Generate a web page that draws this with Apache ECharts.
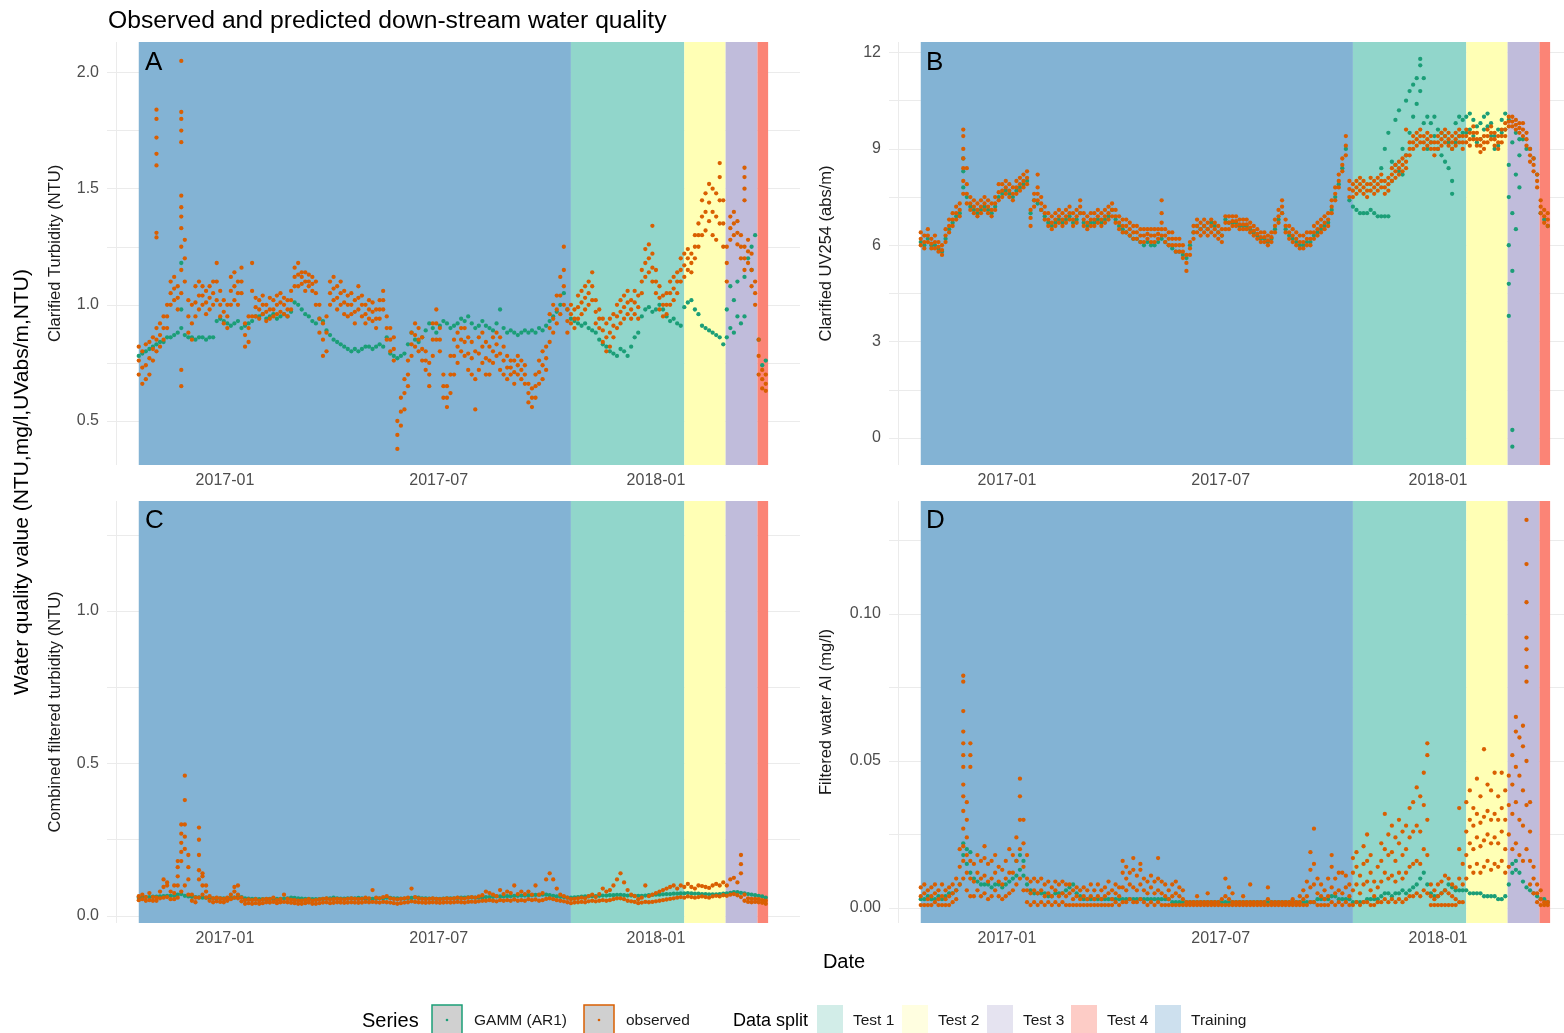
<!DOCTYPE html>
<html><head><meta charset="utf-8">
<script src="https://cdn.jsdelivr.net/npm/echarts@6.0.0/dist/echarts.min.js"></script>
<style>html,body{margin:0;padding:0;background:#fff}#chart{width:1564px;height:1033px}</style>
</head><body><div id="chart"></div>
<script>
// ---------- time bins: observations sampled every 3 days from 2016-10-20 ----------
const binStartYear = 2016, binStartMonth = 9, binStartDay = 20, binStepDays = 3;

// ---------- data split bands ----------
const splitNames  = ['Training', 'Test 1', 'Test 2', 'Test 3', 'Test 4'];
const splitStarts = ['2016-10-20', '2017-10-21', '2018-01-25', '2018-03-01', '2018-03-28'];
const splitEnds   = ['2017-10-21', '2018-01-25', '2018-03-01', '2018-03-28', '2018-04-06'];

// ---------- axis ticks ----------
const xLabelDates = ['2017-01-01', '2017-07-01', '2018-01-01'];
const xGridDates  = ['2016-10-01', '2017-01-01', '2017-04-01', '2017-07-01', '2017-10-01', '2018-01-01', '2018-04-01'];
const yLabelsA = [0.5, 1.0, 1.5, 2.0];
const yGridA   = [0.5, 0.75, 1.0, 1.25, 1.5, 1.75, 2.0];
const yLabelsB = [0, 3, 6, 9, 12];
const yGridB   = [0, 1.5, 3, 4.5, 6, 7.5, 9, 10.5, 12];
const yLabelsC = [0.0, 0.5, 1.0];
const yGridC   = [0, 0.25, 0.5, 0.75, 1.0, 1.25];
const yLabelsD = [0.00, 0.05, 0.10];
const yGridD   = [0, 0.025, 0.05, 0.075, 0.1, 0.125];

// ---------- A: Clarified Turbidity (NTU) ----------
const gammA = [
0.78,0.79,0.80,0.81,0.82,0.83,0.84,0.84,0.86,0.86,
0.87,0.88,[0.90,1.18,0.98],0.87,0.86,0.86,0.85,0.86,0.86,0.85,
0.86,0.86,0.93,0.94,0.93,0.92,0.91,0.92,0.93,0.90,
0.91,0.92,0.93,0.95,0.95,0.96,0.94,0.95,0.96,0.94,
0.95,0.96,0.95,0.97,1.01,1.00,0.98,0.96,0.95,0.93,
0.92,0.94,0.93,0.89,0.87,0.85,0.84,0.83,0.82,0.81,
0.80,0.81,0.80,0.81,0.82,0.82,0.81,0.82,0.83,0.82,
0.86,0.79,0.78,0.77,0.78,0.79,0.83,0.88,0.85,0.84,
0.86,0.89,0.92,0.90,0.88,0.91,0.93,0.92,0.90,0.91,
0.92,0.94,0.93,0.95,0.92,0.90,0.91,0.93,0.91,0.90,
0.89,0.92,0.98,0.90,0.88,0.89,0.88,0.87,0.88,0.89,
0.88,0.89,0.88,0.90,0.89,0.91,0.93,0.95,0.97,1.00,
1.05,0.98,0.94,0.93,0.92,0.91,0.92,0.90,0.89,0.88,
0.85,0.83,0.82,0.80,0.79,0.78,0.81,0.80,0.78,0.82,
0.86,0.88,0.95,0.98,0.99,0.97,0.98,1.00,0.98,0.95,
0.93,0.94,0.92,0.91,0.99,1.01,1.02,0.98,0.96,0.91,
0.90,0.89,0.88,0.87,0.86,0.83,[0.98,0.86],[1.08,0.90],[1.02,0.88],[0.95,1.10],
0.92,[1.12,0.95],1.20,[1.25,1.15],1.30,0.85,0.74,0.76];
const obsA = [
[0.70,0.76,0.82],[0.66,0.73,0.80],[0.68,0.74,0.83],[0.70,0.77,0.84],[0.76,0.81,0.86],[0.80,0.85,0.90,1.84,1.80,1.72,1.65,1.60,1.31,1.29],[0.82,0.87,0.92],[0.85,0.90,0.95],[0.90,0.95,1.00],[1.00,1.05,1.10],
[1.02,1.07,1.12],[0.98,1.03,1.08],[1.05,1.15,1.25,2.05,1.83,1.80,1.75,1.70,1.47,1.42,1.38,1.33,0.72,0.65],[1.10,1.20,1.28],[0.88,0.95,1.02],[0.85,0.92,1.00],[0.95,1.01,1.08],[0.98,1.04,1.10],[1.00,1.04,1.08],[0.96,1.01,1.06],
[0.98,1.03,1.08],[1.00,1.05,1.10],[1.02,1.10,1.18],[0.95,1.00,1.06],[0.92,0.97,1.02],[0.90,0.95,1.00],[1.00,1.06,1.12],[1.02,1.08,1.14],[1.00,1.05,1.10],[1.05,1.10,1.16],
[0.82,0.87,0.92],[0.84,0.90,0.95],[0.95,1.06,1.18],[0.95,0.99,1.03],[0.94,0.98,1.02],[0.96,1.00,1.04],[0.93,0.97,1.00],[0.94,0.98,1.03],[0.95,0.98,1.02],[0.96,1.00,1.04],
[0.97,1.01,1.05],[0.96,1.00,1.03],[0.95,0.98,1.02],[0.98,1.02,1.06],[1.08,1.12,1.16],[1.08,1.13,1.18],[1.09,1.12,1.14],[1.06,1.10,1.14],[1.08,1.10,1.13],[1.06,1.09,1.12],
[1.00,1.05,1.10],[0.88,0.94,1.00],[0.78,0.85,0.92],[0.80,0.88,0.95],[1.00,1.05,1.10],[1.02,1.07,1.12],[0.98,1.03,1.08],[1.00,1.05,1.10],[0.96,1.01,1.06],[0.95,1.00,1.04],
[0.96,1.00,1.05],[0.92,0.97,1.02],[0.98,1.03,1.08],[0.95,1.00,1.04],[0.92,0.96,1.00],[0.94,0.98,1.02],[0.93,0.97,1.01],[0.90,0.94,0.98],[0.94,0.98,1.02],[0.98,1.02,1.06],
[0.85,0.90,0.95],[0.80,0.85,0.90],[0.76,0.81,0.86],[0.38,0.44,0.50],[0.48,0.54,0.60],[0.55,0.62,0.68],[0.65,0.70,0.76],[0.78,0.83,0.88],[0.82,0.87,0.92],[0.80,0.85,0.90],
[0.76,0.81,0.86],[0.72,0.76,0.80],[0.65,0.70,0.75],[0.78,0.85,0.92],[0.85,0.92,0.98],[0.80,0.85,0.90],[0.60,0.65,0.70],[0.56,0.60,0.65],[0.62,0.70,0.78],[0.70,0.78,0.85],
[0.75,0.82,0.88],[0.80,0.85,0.90],[0.78,0.84,0.90],[0.72,0.79,0.86],[0.70,0.77,0.84],[0.55,0.68,0.80],[0.72,0.79,0.86],[0.75,0.82,0.88],[0.70,0.77,0.84],[0.70,0.76,0.82],
[0.75,0.80,0.86],[0.78,0.83,0.88],[0.72,0.79,0.86],[0.70,0.76,0.82],[0.68,0.73,0.78],[0.70,0.73,0.76],[0.66,0.71,0.76],[0.70,0.74,0.78],[0.68,0.72,0.76],[0.66,0.70,0.74],
[0.58,0.62,0.66],[0.56,0.60,0.64],[0.60,0.65,0.70],[0.66,0.71,0.76],[0.68,0.74,0.80],[0.72,0.77,0.82],[0.84,0.90,0.96],[0.88,0.94,1.00],[0.92,0.98,1.04],[0.96,1.04,1.12],
[1.00,1.08,1.15,1.25],[0.88,0.93,0.98],[0.92,0.96,1.00],[0.90,0.94,0.98],[0.94,0.99,1.04],[0.96,1.01,1.06],[0.98,1.03,1.08],[1.00,1.05,1.10],[1.02,1.08,1.14],[0.92,0.97,1.02],
[0.90,0.94,0.98],[0.84,0.89,0.94],[0.80,0.86,0.92],[0.82,0.88,0.94],[0.86,0.91,0.96],[0.90,0.95,1.00],[0.92,0.97,1.02],[0.94,0.99,1.04],[0.96,1.01,1.06],[0.94,0.98,1.02],
[0.96,1.01,1.06],[0.94,0.99,1.04],[1.05,1.10,1.15],[1.12,1.18,1.24],[1.14,1.20,1.26],[1.10,1.16,1.22,1.34],[1.05,1.10,1.15],[0.98,1.03,1.08],[0.95,1.00,1.04],[0.96,1.00,1.05],
[1.00,1.05,1.10],[1.02,1.07,1.12],[1.05,1.10,1.14],[1.10,1.15,1.20],[1.12,1.17,1.22],[1.15,1.20,1.24],[1.14,1.18,1.22],[1.20,1.25,1.30],[1.25,1.30,1.35],[1.30,1.38,1.45],
[1.32,1.40,1.48],[1.36,1.44,1.52],[1.30,1.40,1.50],[1.28,1.38,1.48],[1.35,1.45,1.55,1.61],[1.25,1.35,1.45],[1.10,1.18,1.25],[1.28,1.33,1.38],[1.30,1.35,1.40],[1.26,1.31,1.36],
[1.20,1.25,1.30],[1.15,1.20,1.25,1.59,1.55,1.50,1.45],[1.18,1.23,1.28],[1.08,1.15,1.22],[1.00,1.05,1.10],[0.70,0.78,0.85],[0.64,0.68,0.72],[0.63,0.66,0.70]];

// ---------- B: Clarified UV254 (abs/m) ----------
const gammB = [
6.1,6.0,6.2,6.0,6.0,5.9,5.8,6.2,6.5,6.7,
6.9,7.0,[8.7,8.3,7.8],7.5,7.2,7.1,7.0,7.1,7.2,7.1,
7.0,7.2,7.5,7.6,7.7,7.6,7.5,7.7,7.8,7.9,
8.0,7.0,7.4,7.3,7.1,6.9,6.7,6.6,6.7,6.8,
6.7,6.8,6.9,6.7,6.8,7.0,6.7,6.6,6.7,6.7,
6.8,6.7,6.8,6.9,7.1,6.8,6.6,6.5,6.4,6.3,
6.2,6.2,6.1,6.0,6.1,6.0,6.0,6.1,6.2,6.1,
6.0,5.9,5.8,5.8,5.7,5.6,6.0,6.4,6.6,6.5,
6.6,6.5,6.7,6.6,6.4,6.3,6.8,6.7,6.7,6.7,
6.6,6.6,6.6,6.5,6.4,6.3,6.2,6.2,6.1,6.2,
6.5,6.8,7.0,6.5,6.3,6.2,6.1,6.0,6.0,6.1,
6.1,6.3,6.4,6.5,6.6,6.7,7.1,7.5,7.9,8.4,
9.0,7.4,7.2,7.1,7.0,7.0,7.0,7.1,7.0,6.9,
[6.9,8.4],[6.9,9.0],[6.9,9.5],[8.0,8.6],[8.5,9.9],[8.3,10.2],[8.2,9.0],[8.8,10.5],[9.5,10.8],[10.0,11.0],
[10.4,11.2],[10.8,11.8,11.6],[9.8,11.2],[9.0,10.0],[9.2,9.8],[9.4,10.0],[9.0,9.6],[8.8,9.5],[8.6,9.4],[8.4,9.2],
[7.6,8.0,9.0],[9.2,9.8],[9.4,10.0],[9.5,9.9],[9.5,10.0],[9.6,10.1],[9.4,9.9],[9.2,9.7],[9.3,9.8],[9.6,10.0],
[9.7,10.1],[9.4,9.8],[9.0,9.4],[9.1,9.6],[9.5,9.9],[9.6,10.1],[9.9,8.5,7.5,6.0,4.8,3.8],[9.2,7.0,5.2,0.25,-0.27],[9.5,8.2,6.5],[9.3,8.8,7.8],
9.3,9.0,9.0,8.7,8.2,7.0,6.8,6.6];
const obsB = [
[6.0,6.2,6.4],[5.9,6.1,6.3],[6.1,6.3,6.5],[5.9,6.05,6.2],[5.9,6.1,6.3],[5.8,5.95,6.1],[5.7,5.85,6.0],[6.1,6.3,6.5],[6.4,6.6,6.8],[6.6,6.8,7.0],
[6.8,7.0,7.2],[6.9,7.1,7.3],[7.6,8.0,8.4,9.6,9.4,9.0,8.7],[7.3,7.6,7.9,8.4],[7.1,7.3,7.5],[7.0,7.2,7.4],[6.9,7.1,7.3],[7.0,7.2,7.4],[7.1,7.3,7.5],[7.0,7.2,7.4],
[6.9,7.1,7.3],[7.1,7.3,7.5],[7.4,7.65,7.9],[7.5,7.7,7.9],[7.6,7.8,8.0],[7.5,7.7,7.9],[7.4,7.6,7.8],[7.6,7.8,8.0],[7.7,7.9,8.1],[7.8,8.0,8.2],
[7.9,8.1,8.3],[6.6,6.85,7.1],[7.2,7.4,7.6],[7.4,7.6,7.8,8.2],[7.1,7.3,7.5],[6.8,7.0,7.2],[6.6,6.8,7.0],[6.5,6.7,6.9],[6.6,6.8,7.0],[6.7,6.9,7.1],
[6.6,6.8,7.0],[6.7,6.9,7.1],[6.8,7.0,7.2],[6.6,6.8,7.0],[6.7,6.9,7.1],[7.0,7.2,7.4],[6.6,6.8,7.0],[6.5,6.7,6.9],[6.6,6.8,7.0],[6.6,6.8,7.0],
[6.7,6.9,7.1],[6.6,6.8,7.0],[6.7,6.9,7.1],[6.8,7.0,7.2],[6.9,7.1,7.3],[6.7,6.9,7.1],[6.5,6.7,6.9],[6.4,6.6,6.8],[6.4,6.6,6.8],[6.3,6.5,6.7],
[6.2,6.4,6.6],[6.2,6.4,6.6],[6.1,6.3,6.5],[6.1,6.3,6.5],[6.2,6.35,6.5],[6.1,6.3,6.5],[6.1,6.3,6.5],[6.2,6.35,6.5],[6.3,6.5,6.7,7.4,7.0],[6.1,6.3,6.5],
[6.0,6.2,6.4],[6.0,6.2,6.4],[5.8,6.0,6.2],[5.8,6.0,6.2],[5.6,5.8,6.0],[5.2,5.45,5.7],[5.7,5.9,6.1],[6.2,6.4,6.6],[6.4,6.6,6.8],[6.3,6.5,6.7],
[6.4,6.6,6.8],[6.3,6.5,6.7],[6.4,6.6,6.8],[6.3,6.5,6.7],[6.2,6.4,6.6],[6.1,6.3,6.5],[6.5,6.7,6.9],[6.5,6.7,6.9],[6.6,6.75,6.9],[6.6,6.75,6.9],
[6.5,6.65,6.8],[6.5,6.65,6.8],[6.5,6.65,6.8],[6.4,6.55,6.7],[6.3,6.45,6.6],[6.2,6.35,6.5],[6.1,6.25,6.4],[6.1,6.25,6.4],[6.0,6.15,6.3],[6.1,6.25,6.4],
[6.4,6.6,6.8],[6.7,6.9,7.1],[7.0,7.2,7.4],[6.4,6.6,6.8],[6.2,6.4,6.6],[6.1,6.3,6.5],[6.0,6.2,6.4],[5.9,6.1,6.3],[5.9,6.1,6.3],[6.0,6.2,6.4],
[6.0,6.2,6.4],[6.2,6.4,6.6],[6.3,6.5,6.7],[6.4,6.6,6.8],[6.5,6.7,6.9],[6.6,6.8,7.0],[7.0,7.2,7.4],[7.4,7.6,7.8],[7.8,8.0,8.2],[8.3,8.5,8.7],
[8.8,9.1,9.4],[7.5,7.75,8.0],[7.5,7.7,7.9],[7.6,7.8,8.0],[7.7,7.9,8.1],[7.6,7.8,8.0],[7.5,7.7,7.9],[7.7,7.9,8.1],[7.6,7.8,8.0],[7.7,7.9,8.1],
[7.8,8.0,8.2],[7.6,7.8,8.0],[7.7,7.9,8.1],[8.0,8.2,8.4],[8.1,8.3,8.5],[8.2,8.4,8.6],[8.3,8.5,8.7],[8.4,8.6,8.8,9.6],[8.8,9.0,9.2],[9.0,9.2,9.4],
[9.1,9.3,9.5],[9.2,9.4,9.6],[9.0,9.2,9.4],[9.1,9.3,9.5],[9.0,9.2,9.4],[8.8,9.0,9.2],[9.0,9.2,9.4],[9.1,9.3,9.5],[9.2,9.4,9.6],[9.1,9.3,9.5],
[9.0,9.2,9.4],[9.1,9.3,9.5],[9.2,9.4,9.6],[9.0,9.2,9.4],[9.2,9.4,9.6],[9.1,9.3,9.5],[9.3,9.5,9.7],[9.1,9.3,9.5],[8.9,9.1,9.3],[9.0,9.2,9.4],
[9.2,9.4,9.6],[9.3,9.5,9.7],[9.1,9.3,9.5],[9.0,9.2,9.4],[9.2,9.4,9.6],[9.4,9.6,9.8],[9.7,9.85,10.0],[9.7,9.85,10.0],[9.6,9.75,9.9],[9.5,9.65,9.8],
[9.4,9.6,9.8],[9.1,9.3,9.5],[8.6,8.8,9.0],[8.3,8.5,8.7],[7.8,8.0,8.2],[7.0,7.2,7.4],[6.7,6.9,7.1],[6.6,6.8,7.0]];

// ---------- C: Combined filtered turbidity (NTU) ----------
const gammC = [
0.060,0.061,0.062,0.062,0.063,0.063,0.064,0.065,0.066,0.066,
0.066,0.070,0.072,0.066,0.064,0.063,0.062,0.061,0.060,0.060,
0.059,0.058,0.058,0.058,0.058,0.058,0.059,0.060,0.062,0.062,
0.058,0.057,0.056,0.056,0.055,0.055,0.055,0.056,0.056,0.056,
0.056,0.057,0.058,0.060,0.059,0.058,0.057,0.056,0.056,0.055,
0.055,0.055,0.056,0.057,0.058,0.060,0.058,0.057,0.057,0.058,
0.058,0.058,0.059,0.058,0.057,0.056,0.056,0.057,0.058,0.058,
0.060,0.059,0.058,0.058,0.057,0.057,0.058,0.059,0.060,0.060,
0.058,0.058,0.057,0.057,0.056,0.056,0.057,0.058,0.058,0.058,
0.059,0.060,0.060,0.061,0.061,0.060,0.060,0.061,0.062,0.062,
0.063,0.064,0.064,0.064,0.065,0.065,0.066,0.066,0.067,0.067,
0.068,0.068,0.069,0.069,0.070,0.070,0.068,0.066,0.064,0.063,
0.062,0.060,0.060,0.061,0.062,0.063,0.064,0.064,0.065,0.065,
0.066,0.067,0.067,0.068,0.068,0.069,0.069,0.068,0.067,0.067,
0.066,0.066,0.066,0.067,0.068,0.069,0.070,0.070,0.071,0.072,
0.072,0.073,0.073,0.074,0.074,0.075,0.074,0.073,0.073,0.072,
0.072,0.071,0.071,0.071,0.072,0.073,0.074,0.076,0.078,0.078,
0.076,0.074,0.072,0.070,0.068,0.066,0.064,0.060];
const obsC = [
[0.052,0.065],[0.055,0.070],[0.050,0.062],[0.052,0.075],[0.050,0.062],[0.050,0.060],[0.058,0.080],[0.060,0.095,0.12],[0.062,0.10,0.11],[0.055,0.08],
[0.055,0.075,0.10],[0.06,0.10,0.13,0.16,0.18],[0.08,0.18,0.21,0.24,0.27,0.30],[0.10,0.22,0.26,0.30,0.38,0.46],[0.07,0.12,0.16,0.20],[0.05,0.07],[0.045,0.06],[0.06,0.12,0.15,0.20,0.25,0.29],[0.07,0.10,0.13,0.14],[0.06,0.08,0.10],
[0.05,0.065],[0.045,0.058],[0.048,0.060],[0.046,0.058],[0.045,0.056],[0.05,0.06],[0.055,0.07],[0.06,0.08,0.095],[0.058,0.07,0.10],[0.048,0.06],
[0.040,0.052],[0.042,0.054],[0.040,0.052],[0.042,0.055],[0.040,0.050],[0.042,0.054],[0.045,0.056],[0.044,0.055],[0.046,0.060],[0.042,0.052],
[0.045,0.055],[0.046,0.070],[0.045,0.056],[0.043,0.053],[0.042,0.052],[0.040,0.050],[0.040,0.050],[0.042,0.052],[0.044,0.055],[0.040,0.050],
[0.040,0.052],[0.042,0.054],[0.044,0.056],[0.045,0.058],[0.042,0.054],[0.043,0.055],[0.045,0.056],[0.044,0.055],[0.043,0.054],[0.044,0.056],
[0.045,0.058],[0.044,0.056],[0.043,0.055],[0.044,0.056],[0.046,0.060],[0.045,0.058],[0.046,0.085],[0.045,0.060],[0.044,0.058],[0.046,0.062],
[0.045,0.065],[0.044,0.058],[0.042,0.056],[0.040,0.054],[0.042,0.056],[0.044,0.058],[0.045,0.060],[0.048,0.090],[0.046,0.062],[0.045,0.058],
[0.044,0.056],[0.043,0.055],[0.044,0.056],[0.045,0.058],[0.044,0.056],[0.043,0.055],[0.044,0.056],[0.045,0.058],[0.044,0.056],[0.045,0.058],
[0.046,0.060],[0.045,0.058],[0.044,0.057],[0.046,0.060],[0.047,0.062],[0.046,0.060],[0.048,0.064],[0.050,0.068],[0.050,0.080],[0.052,0.075],
[0.050,0.070],[0.048,0.065],[0.052,0.085],[0.050,0.072],[0.052,0.080],[0.050,0.075],[0.054,0.100],[0.050,0.072],[0.052,0.080],[0.050,0.072],
[0.055,0.080],[0.052,0.070],[0.054,0.100],[0.050,0.070],[0.052,0.075],[0.056,0.120],[0.058,0.140],[0.055,0.120],[0.052,0.090],[0.050,0.070],
[0.048,0.065],[0.045,0.060],[0.042,0.055],[0.044,0.056],[0.045,0.058],[0.046,0.060],[0.045,0.058],[0.048,0.065],[0.050,0.070],[0.048,0.062],
[0.050,0.072],[0.052,0.090],[0.050,0.080],[0.052,0.085],[0.055,0.100],[0.058,0.120],[0.058,0.140],[0.055,0.110],[0.050,0.085],[0.048,0.070],
[0.046,0.065],[0.042,0.055],[0.044,0.060],[0.046,0.100],[0.045,0.065],[0.046,0.070],[0.048,0.075],[0.050,0.080],[0.052,0.085],[0.054,0.090],
[0.056,0.095],[0.058,0.100],[0.060,0.090],[0.062,0.100],[0.060,0.095],[0.064,0.105],[0.062,0.095],[0.060,0.090],[0.062,0.100],[0.064,0.098],
[0.062,0.095],[0.060,0.092],[0.064,0.100],[0.066,0.105],[0.064,0.100],[0.068,0.110],[0.066,0.100],[0.070,0.120],[0.072,0.125],[0.068,0.110],
[0.062,0.140,0.17,0.20],[0.050,0.070],[0.046,0.058],[0.045,0.056],[0.046,0.056],[0.045,0.055],[0.043,0.052],[0.040,0.050]];

// ---------- D: Filtered water Al (mg/l) ----------
const gammD = [
0.003,0.003,0.004,0.003,0.003,0.004,0.003,0.004,0.005,0.005,
0.006,0.008,[0.018,0.022],[0.015,0.020],[0.012,0.019],0.010,0.009,0.008,0.008,0.008,
0.007,0.008,0.008,0.007,0.008,0.009,0.010,[0.011,0.016],[0.013,0.018],[0.011,0.016],
0.008,0.006,0.005,0.005,0.005,0.005,0.004,0.004,0.005,0.005,
0.005,0.006,0.007,0.008,0.005,0.004,0.003,0.003,0.003,0.003,
0.003,0.003,0.003,0.003,0.003,0.003,0.003,0.003,0.003,0.003,
0.003,0.003,0.003,0.003,0.003,0.003,0.003,0.003,0.003,0.003,
0.003,0.002,0.002,0.002,0.002,0.002,0.002,0.002,0.002,0.002,
0.002,0.002,0.002,0.002,0.002,0.002,0.002,0.002,0.002,0.002,
0.002,0.002,0.002,0.002,0.002,0.002,0.002,0.002,0.002,0.002,
0.002,0.002,0.002,0.002,0.002,0.002,0.002,0.002,0.002,0.002,
0.002,0.002,0.003,0.003,0.003,0.003,0.004,0.004,0.003,0.003,
0.003,0.003,0.002,0.002,0.002,0.002,0.003,0.003,0.003,0.003,
0.004,0.005,0.005,0.004,0.005,0.005,0.006,0.005,0.006,0.007,
0.008,0.010,0.012,0.008,0.005,0.004,0.004,0.005,0.006,0.008,
0.007,0.006,0.006,0.006,0.006,0.005,0.005,0.005,0.005,0.004,
0.004,0.004,0.004,0.003,0.003,0.004,0.008,[0.012,0.015],[0.013,0.016],0.012,
0.009,0.007,0.006,0.005,0.004,0.003,0.003,0.002];
const obsD = [
[0.001,0.004,0.007],[0.001,0.005,0.008],[0.001,0.003,0.006],[0.001,0.004,0.007],[0.002,0.005,0.008],[0.001,0.003,0.006],[0.001,0.004,0.008],[0.001,0.003,0.006],[0.001,0.004,0.007],[0.002,0.005,0.008],
[0.003,0.006,0.010],[0.008,0.014,0.020],[0.010,0.016,0.021,0.027,0.033,0.038,0.042,0.048,0.052,0.056,0.060,0.067,0.077,0.079],[0.006,0.012,0.018,0.024,0.030,0.036],[0.004,0.010,0.016,0.048,0.052,0.056],[0.004,0.009,0.015],[0.006,0.012,0.018],[0.004,0.010,0.016],[0.005,0.011,0.017,0.021],[0.003,0.009,0.015],
[0.004,0.010,0.016],[0.006,0.012,0.018],[0.004,0.009,0.014],[0.003,0.008,0.013],[0.004,0.010,0.016],[0.005,0.012,0.020],[0.006,0.012,0.018],[0.008,0.016,0.024],[0.010,0.020,0.030,0.038,0.044],[0.006,0.014,0.022,0.030],
[0.002,0.006,0.010,0.018],[0.001,0.005,0.009],[0.002,0.006,0.010],[0.001,0.005,0.009],[0.002,0.006,0.010],[0.001,0.004,0.008],[0.002,0.005,0.009],[0.001,0.004,0.007],[0.002,0.006,0.009],[0.001,0.004,0.008],
[0.002,0.005,0.009],[0.001,0.004,0.008],[0.001,0.005,0.008],[0.001,0.003,0.006],[0.001,0.004,0.007],[0.001,0.003,0.006],[0.001,0.004,0.007],[0.001,0.003,0.006],[0.001,0.004,0.008],[0.001,0.003,0.006],
[0.001,0.004,0.008],[0.001,0.003,0.006],[0.001,0.004,0.007],[0.001,0.005,0.009],[0.001,0.003,0.006],[0.002,0.005,0.008],[0.001,0.004,0.007],[0.002,0.007,0.012,0.016],[0.002,0.006,0.010,0.014],[0.003,0.008,0.012],
[0.002,0.007,0.013,0.017],[0.002,0.006,0.011],[0.003,0.008,0.013,0.015],[0.002,0.006,0.010],[0.001,0.005,0.009],[0.002,0.007,0.011],[0.001,0.005,0.009],[0.002,0.006,0.010,0.017],[0.001,0.005,0.009],[0.001,0.004,0.008],
[0.001,0.003,0.006],[0.001,0.004,0.008],[0.001,0.005,0.009],[0.001,0.004,0.007],[0.001,0.003,0.006],[0.001,0.002],[0.001,0.002],[0.001,0.002],[0.001,0.002,0.004],[0.001,0.002],
[0.001,0.002],[0.001,0.002,0.005],[0.001,0.002],[0.001,0.002],[0.001,0.002],[0.001,0.003],[0.001,0.004,0.010],[0.001,0.003,0.007],[0.001,0.002,0.005],[0.001,0.002],
[0.001,0.002],[0.001,0.002,0.004],[0.001,0.002],[0.001,0.002,0.008],[0.001,0.002],[0.001,0.002],[0.001,0.002],[0.001,0.002],[0.001,0.003,0.007],[0.001,0.002],
[0.001,0.002],[0.001,0.002],[0.001,0.002],[0.001,0.002],[0.001,0.002],[0.001,0.002,0.003],[0.001,0.002],[0.001,0.002,0.004],[0.001,0.003,0.006],[0.001,0.004,0.009],
[0.002,0.007,0.013,0.019],[0.002,0.008,0.015,0.027],[0.001,0.005,0.010],[0.001,0.004,0.008],[0.001,0.003,0.006],[0.001,0.004,0.010],[0.002,0.007,0.014,0.018],[0.001,0.005,0.010],[0.002,0.006,0.012],[0.001,0.005,0.012],
[0.002,0.007,0.011],[0.001,0.004,0.008],[0.001,0.006,0.012,0.017],[0.002,0.008,0.014,0.019],[0.001,0.005,0.011],[0.002,0.008,0.015,0.021],[0.002,0.009,0.016,0.025],[0.001,0.006,0.012,0.018],[0.001,0.004,0.009],[0.002,0.007,0.014],
[0.002,0.009,0.016,0.022],[0.003,0.012,0.020,0.032],[0.002,0.010,0.018,0.025],[0.003,0.011,0.019,0.028],[0.002,0.009,0.016,0.024],[0.003,0.012,0.022,0.030],[0.002,0.010,0.018,0.026],[0.003,0.012,0.020,0.028],[0.004,0.014,0.024,0.034],[0.004,0.015,0.026,0.036],
[0.005,0.016,0.028,0.041],[0.004,0.015,0.026,0.038],[0.006,0.020,0.035,0.046],[0.005,0.018,0.030,0.052,0.056],[0.001,0.004,0.008],[0.001,0.003,0.006],[0.001,0.004,0.008],[0.001,0.005,0.009],[0.001,0.006,0.011],[0.001,0.005,0.010],
[0.001,0.004,0.008],[0.001,0.003,0.007],[0.002,0.010,0.020,0.034],[0.002,0.008,0.015],[0.010,0.018,0.026,0.036],[0.014,0.022,0.030,0.040],[0.012,0.020,0.028,0.034],[0.015,0.024,0.032,0.044],[0.012,0.021,0.029,0.038],[0.014,0.023,0.031,0.054],
[0.016,0.025,0.033,0.042],[0.013,0.022,0.030,0.040],[0.015,0.024,0.032,0.046],[0.014,0.022,0.030,0.038],[0.016,0.026,0.034,0.046],[0.012,0.020,0.030,0.040],[0.014,0.025,0.035,0.045],[0.020,0.032,0.042,0.052],[0.022,0.036,0.048,0.060,0.065],[0.018,0.030,0.045,0.058],
[0.016,0.028,0.040,0.055,0.062],[0.020,0.035,0.050,0.077,0.082,0.088,0.092,0.104,0.117,0.132],[0.008,0.016,0.026,0.036],[0.005,0.010,0.014],[0.002,0.005,0.008],[0.001,0.003,0.006],[0.001,0.002],[0.001,0.002]];

// ================= styling / layout =================
const FONT = '"Liberation Sans", Arial, Helvetica, sans-serif';
const COL_GAMM = '#1b9e77', COL_OBS = '#d95f02';
const bandColors   = {'Training':'#83b3d4','Test 1':'#91d6cb','Test 2':'#ffffb5','Test 3':'#c0bcdb','Test 4':'#fb8476'};
const legendColors = {'Training':'#cde0ee','Test 1':'#d2ede8','Test 2':'#fffee0','Test 3':'#e5e3f0','Test 4':'#fdccc6'};
const GRIDLINE = '#ebebeb', TICKTXT = '#4d4d4d';
const PT = 4.3;

function ts(s){ const p = s.split('-').map(Number); return new Date(p[0], p[1]-1, p[2]).getTime(); }
function binTime(i){ return new Date(binStartYear, binStartMonth, binStartDay + binStepDays*i).getTime(); }
function toPoints(list){
  const out = [];
  list.forEach((v, i) => { const t = binTime(i); (Array.isArray(v) ? v : [v]).forEach(y => out.push([t, y])); });
  return out;
}
const DAY = 864e5, jan2017 = ts('2017-01-01');
const xMin = jan2017 - 99.9*DAY, xMax = jan2017 + 487.0*DAY;
const PW = 693;
const panels = [
  {letter:'A', left:107, top:42,  h:423, yMin:0.3106, yMax:2.1313, labels:yLabelsA, grid:yGridA, dec:1, name:'Clarified Turbidity (NTU)', gamm:gammA, obs:obsA},
  {letter:'B', left:889, top:42,  h:423, yMin:-0.840, yMax:12.327, labels:yLabelsB, grid:yGridB, dec:0, name:'Clarified UV254 (abs/m)', gamm:gammB, obs:obsB},
  {letter:'C', left:107, top:501, h:422, yMin:-0.023, yMax:1.3607, labels:yLabelsC, grid:yGridC, dec:1, name:'Combined filtered turbidity (NTU)', gamm:gammC, obs:obsC},
  {letter:'D', left:889, top:501, h:422, yMin:-0.0051, yMax:0.13844, labels:yLabelsD, grid:yGridD, dec:2, name:'Filtered water Al (mg/l)', gamm:gammD, obs:obsD}
];
const fmtMonth = v => { const d = new Date(v); return d.getFullYear() + '-' + String(d.getMonth()+1).padStart(2,'0'); };

const option = {
  animation: false,
  backgroundColor: '#ffffff',
  title: { text: 'Observed and predicted down-stream water quality', left: 103, top: 4,
           textStyle: { fontSize: 24.7, fontWeight: 'normal', color: '#000', fontFamily: FONT } },
  grid: panels.map(p => ({ left: p.left, top: p.top, width: PW, height: p.h, containLabel: false, outerBoundsMode: 'none' })),
  xAxis: panels.map((p, k) => ({
    type: 'value', gridIndex: k, min: xMin, max: xMax, scale: true,
    axisLine: { show: false },
    axisTick: { show: false, customValues: xGridDates.map(ts) },
    axisLabel: { customValues: xLabelDates.map(ts), formatter: fmtMonth, fontSize: 16, color: TICKTXT, fontFamily: FONT, margin: 8, hideOverlap: false },
    splitLine: { show: true, lineStyle: { color: GRIDLINE, width: 1 } }
  })),
  yAxis: panels.map((p, k) => ({
    type: 'value', gridIndex: k, min: p.yMin, max: p.yMax,
    axisLine: { show: false },
    axisTick: { show: false, customValues: p.grid },
    axisLabel: { customValues: p.labels, formatter: v => Number(v).toFixed(p.dec), fontSize: 16, color: TICKTXT, fontFamily: FONT, margin: 8 },
    splitLine: { show: true, lineStyle: { color: GRIDLINE, width: 1 } },
    name: p.name, nameLocation: 'middle', nameGap: k % 2 === 0 ? 43 : 54,
    nameTextStyle: { fontSize: 16.5, color: '#1a1a1a', fontFamily: FONT }
  })),
  series: []
};

panels.forEach((p, k) => {
  option.series.push({
    name: 'GAMM (AR1)', type: 'scatter', xAxisIndex: k, yAxisIndex: k, z: 3,
    symbol: 'circle', symbolSize: PT, itemStyle: { color: COL_GAMM, opacity: 1 },
    data: toPoints(p.gamm), silent: true,
    markArea: { silent: true, z: 1, label: { show: false },
      data: splitNames.map((n, j) => [{ xAxis: ts(splitStarts[j]), itemStyle: { color: bandColors[n], opacity: 1 } }, { xAxis: ts(splitEnds[j]) }]) }
  });
  option.series.push({
    name: 'observed', type: 'scatter', xAxisIndex: k, yAxisIndex: k, z: 4,
    symbol: 'circle', symbolSize: PT, itemStyle: { color: COL_OBS, opacity: 1 },
    data: toPoints(p.obs), silent: true
  });
});

// ---------- text & legend graphics ----------
const g = [];
const letterPos = { A: [145, 63], B: [926, 63], C: [145, 521], D: [926, 521] };
panels.forEach(p => g.push({ type: 'text', x: letterPos[p.letter][0], y: letterPos[p.letter][1], z: 50,
  style: { text: p.letter, fontSize: 26, fontFamily: FONT, fill: '#000', verticalAlign: 'middle', align: 'left' } }));
g.push({ type: 'text', x: 22, y: 482, rotation: Math.PI/2, z: 50,
  style: { text: 'Water quality value (NTU,mg/l,UVabs/m,NTU)', fontSize: 21, fontFamily: FONT, fill: '#000', align: 'center', verticalAlign: 'middle' } });
g.push({ type: 'text', x: 844, y: 962, z: 50,
  style: { text: 'Date', fontSize: 20, fontFamily: FONT, fill: '#000', align: 'center', verticalAlign: 'middle' } });

const LY = 1020;
g.push({ type: 'text', x: 362, y: LY + 1, style: { text: 'Series', fontSize: 20, fontFamily: FONT, fill: '#000', verticalAlign: 'middle' } });
[['GAMM (AR1)', COL_GAMM, 432, 474], ['observed', COL_OBS, 584, 626]].forEach(([lab, col, bx, tx]) => {
  g.push({ type: 'rect', shape: { x: bx, y: LY - 15, width: 30, height: 30 }, style: { fill: '#d0d0d0', stroke: col, lineWidth: 1.5 } });
  g.push({ type: 'circle', shape: { cx: bx + 15, cy: LY, r: 1.3 }, style: { fill: col } });
  g.push({ type: 'text', x: tx, y: LY + 1, style: { text: lab, fontSize: 15.5, fontFamily: FONT, fill: '#1a1a1a', verticalAlign: 'middle' } });
});
g.push({ type: 'text', x: 733, y: LY + 1, style: { text: 'Data split', fontSize: 18, fontFamily: FONT, fill: '#000', verticalAlign: 'middle' } });
const legOrder = ['Test 1', 'Test 2', 'Test 3', 'Test 4', 'Training'];
const legBoxX = [817, 902, 987, 1071, 1155];
legOrder.forEach((n, j) => {
  g.push({ type: 'rect', shape: { x: legBoxX[j], y: LY - 15, width: 26, height: 30 }, style: { fill: legendColors[n] } });
  g.push({ type: 'text', x: legBoxX[j] + 36, y: LY + 1, style: { text: n, fontSize: 15.5, fontFamily: FONT, fill: '#1a1a1a', verticalAlign: 'middle' } });
});
option.graphic = g;

const chart = echarts.init(document.getElementById('chart'), null, { renderer: 'canvas' });
chart.setOption(option);
</script></body></html>
